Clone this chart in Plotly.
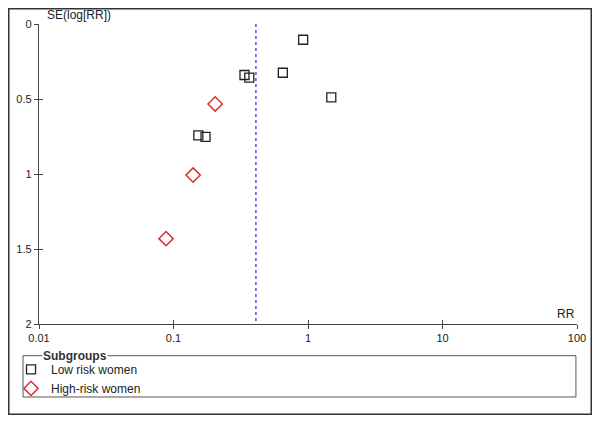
import plotly.graph_objects as go

# funnel plot data: risk ratio vs standard error of log(RR)
low_rr = [0.92, 0.65, 1.49, 0.337, 0.366, 0.153, 0.173]
low_se = [0.105, 0.325, 0.489, 0.34, 0.358, 0.742, 0.753]
high_rr = [0.204, 0.140, 0.088]
high_se = [0.533, 1.007, 1.431]
pooled_rr = 0.41
se_range = [0, 2]
x_ticks = [0.01, 0.1, 1, 10, 100]
x_labels = ["0.01", "0.1", "1", "10", "100"]
y_ticks = [0, 0.5, 1, 1.5, 2]
y_labels = ["0", "0.5", "1", "1.5", "2"]

FONT = "Liberation Sans, Arial, sans-serif"
AXIS_COL = "#444444"

fig = go.Figure()
fig.add_trace(go.Scatter(
    x=[pooled_rr, pooled_rr], y=se_range,
    mode="lines", line=dict(color="#2222dd", width=1.2, dash="3px,3px"),
    showlegend=False, hoverinfo="skip"))
fig.add_trace(go.Scatter(
    x=low_rr, y=low_se, mode="markers", name="Low risk women",
    marker=dict(symbol="square-open", size=9, color="#222222",
                line=dict(width=1.3))))
fig.add_trace(go.Scatter(
    x=high_rr, y=high_se, mode="markers", name="High-risk women",
    marker=dict(symbol="diamond-open", size=11, color="#d83030",
                line=dict(width=1.5))))

# invisible companion axes so the ticks cross the axis lines
fig.add_trace(go.Scatter(x=[pooled_rr], y=[1], xaxis="x2", yaxis="y2",
                         mode="markers", marker=dict(opacity=0),
                         showlegend=False, hoverinfo="skip"))

axis_common = dict(showgrid=False, zeroline=False, showline=True,
                   linecolor=AXIS_COL, linewidth=1.3, tickcolor=AXIS_COL,
                   ticklen=4, tickwidth=1.2,
                   tickfont=dict(family=FONT, size=11, color="#222222"))

# the page body adds an 8px margin, so the figure is 16px smaller
fig.update_layout(
    width=584, height=407,
    margin=dict(l=31, r=15, t=16, b=91, autoexpand=False),
    paper_bgcolor="white", plot_bgcolor="white",
    font=dict(family=FONT, size=12, color="#222222"),
    xaxis=dict(type="log", range=[-2, 2], tickvals=x_ticks, ticktext=x_labels,
               ticks="outside", **axis_common),
    yaxis=dict(range=[2, 0], tickvals=y_ticks, ticktext=y_labels,
               ticks="outside", **axis_common),
    xaxis2=dict(type="log", range=[-2, 2], tickvals=x_ticks, overlaying="x",
                ticks="inside", showticklabels=False, anchor="y2",
                showgrid=False, zeroline=False, showline=False,
                tickcolor=AXIS_COL, ticklen=4, tickwidth=1.2),
    yaxis2=dict(range=[2, 0], tickvals=y_ticks, overlaying="y", anchor="x2",
                ticks="inside", showticklabels=False,
                showgrid=False, zeroline=False, showline=False,
                tickcolor=AXIS_COL, ticklen=4, tickwidth=1.2),
    showlegend=True,
    legend=dict(x=-0.052, y=-0.103, xanchor="left", yanchor="top",
                bgcolor="rgba(0,0,0,0)", borderwidth=0,
                font=dict(family=FONT, size=12, color="#222222"),
                itemwidth=30, tracegroupgap=0),
)

# outer frame and legend box
fig.add_shape(type="rect", xref="paper", yref="paper",
              x0=-0.0562, x1=1.0265, y0=-0.3008, y1=1.0508,
              line=dict(color="#333333", width=1.5))
fig.add_shape(type="rect", xref="paper", yref="paper",
              x0=-0.0297, x1=0.998, y0=-0.2433, y1=-0.1057,
              line=dict(color="#555555", width=1))

fig.add_annotation(text="SE(log[RR])", xref="paper", yref="paper",
                   x=0.011, y=1.0, xanchor="left", yanchor="bottom",
                   showarrow=False, font=dict(family=FONT, size=12))
fig.add_annotation(text="RR", xref="paper", yref="paper",
                   x=1.0, y=0.005, xanchor="right", yanchor="bottom",
                   showarrow=False, font=dict(family=FONT, size=12))
fig.add_annotation(text="<b>Subgroups</b>", xref="paper", yref="paper",
                   x=0.006, y=-0.1057, xanchor="left", yanchor="middle",
                   showarrow=False, bgcolor="white", borderpad=0,
                   font=dict(family=FONT, size=12, color="#333333"))

fig.write_html("out.html")
